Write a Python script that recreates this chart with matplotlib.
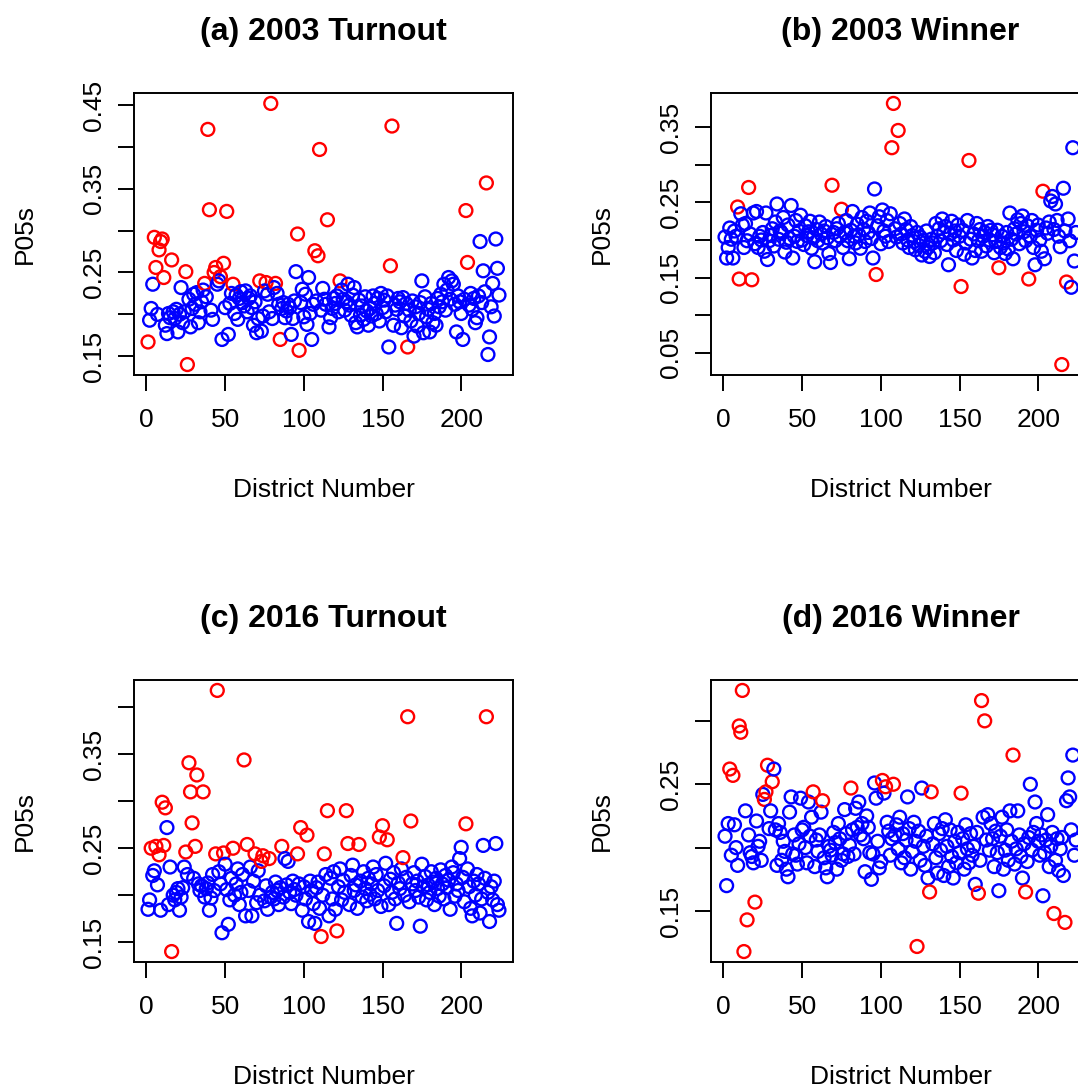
import numpy as np
import matplotlib
matplotlib.use('Agg')
import matplotlib.pyplot as plt

plt.rcParams['font.family'] = ['Liberation Sans', 'DejaVu Sans']

# district numbers 1..224
district = np.arange(1, 225)

# (a) 2003 turnout, P05s per district
turnout03 = [
    0.167, 0.193, 0.207, 0.236, 0.292, 0.256, 0.200, 0.277, 0.287, 0.290,
    0.244, 0.187, 0.177, 0.201, 0.196, 0.265, 0.203, 0.195, 0.206, 0.179,
    0.200, 0.232, 0.190, 0.203, 0.251, 0.140, 0.218, 0.185, 0.207, 0.224,
    0.212, 0.226, 0.190, 0.203, 0.215, 0.229, 0.237, 0.221, 0.421, 0.325,
    0.205, 0.194, 0.250, 0.256, 0.236, 0.240, 0.245, 0.170, 0.261, 0.208,
    0.323, 0.176, 0.213, 0.225, 0.236, 0.201, 0.223, 0.194, 0.219, 0.227,
    0.214, 0.210, 0.228, 0.203, 0.219, 0.222, 0.208, 0.187, 0.215, 0.178,
    0.195, 0.240, 0.180, 0.198, 0.228, 0.238, 0.224, 0.203, 0.452, 0.195,
    0.232, 0.237, 0.225, 0.212, 0.170, 0.207, 0.214, 0.196, 0.204, 0.212,
    0.208, 0.176, 0.195, 0.216, 0.251, 0.296, 0.157, 0.214, 0.230, 0.197,
    0.224, 0.188, 0.244, 0.201, 0.170, 0.212, 0.276, 0.216, 0.270, 0.397,
    0.205, 0.231, 0.218, 0.212, 0.313, 0.185, 0.196, 0.207, 0.219, 0.213,
    0.222, 0.203, 0.240, 0.229, 0.218, 0.205, 0.215, 0.236, 0.211, 0.199,
    0.223, 0.232, 0.190, 0.185, 0.217, 0.199, 0.210, 0.194, 0.221, 0.204,
    0.187, 0.207, 0.198, 0.222, 0.213, 0.201, 0.219, 0.192, 0.225, 0.208,
    0.217, 0.203, 0.222, 0.161, 0.258, 0.425, 0.187, 0.211, 0.206, 0.219,
    0.215, 0.184, 0.220, 0.198, 0.213, 0.161, 0.205, 0.192, 0.216, 0.174,
    0.209, 0.186, 0.201, 0.214, 0.240, 0.178, 0.221, 0.197, 0.206, 0.179,
    0.213, 0.190, 0.201, 0.187, 0.219, 0.209, 0.224, 0.215, 0.236, 0.205,
    0.229, 0.244, 0.218, 0.240, 0.236, 0.212, 0.179, 0.222, 0.215, 0.201,
    0.170, 0.218, 0.324, 0.262, 0.211, 0.225, 0.206, 0.219, 0.190, 0.196,
    0.222, 0.287, 0.214, 0.252, 0.227, 0.357, 0.152, 0.173, 0.209, 0.237,
    0.198, 0.290, 0.255, 0.223]
turnout03_red = [1, 5, 6, 8, 9, 10, 11, 16, 25, 26, 37, 39, 40, 43, 44, 47,
                 49, 51, 55, 72, 76, 79, 82, 85, 96, 97, 107, 109, 110, 115,
                 123, 155, 156, 166, 203, 204, 216]

# (b) 2003 winner
winner03 = [
    0.204, 0.176, 0.190, 0.216, 0.201, 0.176, 0.212, 0.205, 0.244, 0.148,
    0.235, 0.220, 0.190, 0.222, 0.199, 0.270, 0.208, 0.147, 0.236, 0.195,
    0.238, 0.190, 0.205, 0.200, 0.210, 0.185, 0.236, 0.174, 0.199, 0.206,
    0.215, 0.192, 0.224, 0.248, 0.201, 0.212, 0.209, 0.230, 0.184, 0.197,
    0.220, 0.202, 0.246, 0.176, 0.205, 0.226, 0.198, 0.212, 0.233, 0.200,
    0.194, 0.219, 0.206, 0.211, 0.225, 0.189, 0.203, 0.171, 0.214, 0.199,
    0.224, 0.208, 0.196, 0.212, 0.218, 0.203, 0.182, 0.170, 0.273, 0.210,
    0.199, 0.215, 0.222, 0.205, 0.241, 0.190, 0.210, 0.226, 0.199, 0.175,
    0.213, 0.238, 0.205, 0.196, 0.221, 0.207, 0.189, 0.230, 0.214, 0.198,
    0.225, 0.210, 0.236, 0.202, 0.176, 0.268, 0.154, 0.219, 0.231, 0.195,
    0.240, 0.212, 0.205, 0.226, 0.198, 0.235, 0.323, 0.382, 0.215, 0.204,
    0.346, 0.222, 0.208, 0.196, 0.228, 0.214, 0.200, 0.190, 0.218, 0.206,
    0.198, 0.187, 0.210, 0.193, 0.204, 0.180, 0.199, 0.185, 0.212, 0.190,
    0.178, 0.201, 0.196, 0.183, 0.222, 0.205, 0.215, 0.199, 0.228, 0.210,
    0.218, 0.194, 0.167, 0.208, 0.225, 0.200, 0.212, 0.186, 0.220, 0.205,
    0.138, 0.213, 0.181, 0.196, 0.226, 0.306, 0.201, 0.176, 0.208, 0.186,
    0.222, 0.199, 0.214, 0.185, 0.205, 0.210, 0.192, 0.218, 0.200, 0.213,
    0.207, 0.183, 0.198, 0.213, 0.163, 0.190, 0.205, 0.196, 0.182, 0.210,
    0.188, 0.236, 0.201, 0.175, 0.215, 0.208, 0.227, 0.195, 0.222, 0.232,
    0.211, 0.199, 0.219, 0.148, 0.205, 0.226, 0.190, 0.167, 0.213, 0.220,
    0.200, 0.185, 0.265, 0.175, 0.216, 0.209, 0.224, 0.252, 0.258, 0.214,
    0.248, 0.226, 0.205, 0.191, 0.034, 0.269, 0.212, 0.144, 0.228, 0.199,
    0.137, 0.323, 0.172, 0.210]
winner03_red = [9, 10, 16, 18, 69, 75, 97, 107, 108, 111, 151, 156, 175,
                194, 203, 215, 218]

# (c) 2016 turnout
turnout16 = [
    0.185, 0.195, 0.250, 0.221, 0.226, 0.252, 0.211, 0.243, 0.184, 0.299,
    0.253, 0.293, 0.272, 0.190, 0.230, 0.140, 0.200, 0.195, 0.203, 0.207,
    0.184, 0.198, 0.208, 0.230, 0.246, 0.222, 0.341, 0.310, 0.277, 0.218,
    0.252, 0.328, 0.212, 0.205, 0.210, 0.310, 0.198, 0.207, 0.213, 0.184,
    0.197, 0.222, 0.205, 0.244, 0.418, 0.225, 0.212, 0.160, 0.245, 0.233,
    0.206, 0.169, 0.195, 0.218, 0.250, 0.200, 0.212, 0.228, 0.190, 0.203,
    0.222, 0.344, 0.178, 0.254, 0.205, 0.230, 0.178, 0.215, 0.244, 0.192,
    0.226, 0.200, 0.236, 0.242, 0.194, 0.210, 0.185, 0.239, 0.198, 0.203,
    0.196, 0.214, 0.205, 0.190, 0.208, 0.252, 0.198, 0.239, 0.211, 0.236,
    0.203, 0.191, 0.215, 0.206, 0.200, 0.244, 0.212, 0.272, 0.184, 0.209,
    0.196, 0.264, 0.172, 0.215, 0.205, 0.191, 0.170, 0.208, 0.214, 0.186,
    0.156, 0.200, 0.244, 0.222, 0.290, 0.178, 0.218, 0.196, 0.225, 0.185,
    0.162, 0.209, 0.228, 0.195, 0.216, 0.203, 0.290, 0.255, 0.190, 0.221,
    0.232, 0.205, 0.211, 0.186, 0.254, 0.215, 0.198, 0.225, 0.207, 0.194,
    0.218, 0.201, 0.212, 0.230, 0.196, 0.222, 0.205, 0.262, 0.188, 0.274,
    0.210, 0.234, 0.259, 0.190, 0.217, 0.203, 0.224, 0.196, 0.170, 0.213,
    0.207, 0.228, 0.240, 0.200, 0.219, 0.390, 0.193, 0.279, 0.212, 0.224,
    0.205, 0.215, 0.198, 0.167, 0.233, 0.209, 0.220, 0.195, 0.211, 0.203,
    0.225, 0.214, 0.190, 0.218, 0.207, 0.199, 0.227, 0.212, 0.196, 0.221,
    0.208, 0.216, 0.185, 0.230, 0.224, 0.199, 0.212, 0.205, 0.239, 0.251,
    0.219, 0.193, 0.276, 0.228, 0.209, 0.186, 0.178, 0.215, 0.200, 0.222,
    0.212, 0.181, 0.196, 0.253, 0.218, 0.390, 0.203, 0.172, 0.209, 0.195,
    0.215, 0.255, 0.190, 0.184]
turnout16_red = [3, 6, 8, 10, 11, 12, 16, 25, 27, 28, 29, 31, 32, 36, 44,
                 45, 49, 55, 62, 64, 69, 73, 74, 78, 86, 96, 98, 102, 111,
                 113, 115, 121, 127, 128, 135, 148, 150, 153, 163, 166, 168,
                 203, 216]

# (d) 2016 winner
winner16 = [
    0.209, 0.170, 0.219, 0.262, 0.194, 0.257, 0.218, 0.200, 0.186, 0.296,
    0.291, 0.324, 0.118, 0.229, 0.143, 0.210, 0.196, 0.193, 0.188, 0.157,
    0.221, 0.201, 0.205, 0.190, 0.242, 0.238, 0.244, 0.265, 0.215, 0.229,
    0.252, 0.262, 0.214, 0.186, 0.219, 0.212, 0.190, 0.205, 0.197, 0.183,
    0.177, 0.228, 0.240, 0.195, 0.210, 0.194, 0.187, 0.203, 0.239, 0.214,
    0.216, 0.200, 0.188, 0.236, 0.209, 0.224, 0.244, 0.185, 0.206, 0.197,
    0.210, 0.228, 0.237, 0.192, 0.184, 0.177, 0.201, 0.198, 0.194, 0.212,
    0.204, 0.183, 0.219, 0.207, 0.190, 0.195, 0.230, 0.211, 0.193, 0.202,
    0.247, 0.214, 0.195, 0.231, 0.216, 0.236, 0.210, 0.219, 0.207, 0.181,
    0.225, 0.216, 0.196, 0.175, 0.195, 0.251, 0.239, 0.205, 0.184, 0.189,
    0.253, 0.243, 0.248, 0.220, 0.213, 0.194, 0.207, 0.250, 0.210, 0.218,
    0.199, 0.224, 0.188, 0.211, 0.192, 0.206, 0.240, 0.215, 0.183, 0.197,
    0.220, 0.205, 0.122, 0.213, 0.190, 0.247, 0.201, 0.186, 0.209, 0.176,
    0.165, 0.244, 0.203, 0.219, 0.192, 0.180, 0.211, 0.198, 0.215, 0.178,
    0.222, 0.201, 0.185, 0.214, 0.193, 0.176, 0.205, 0.188, 0.212, 0.196,
    0.243, 0.207, 0.183, 0.218, 0.199, 0.188, 0.211, 0.194, 0.201, 0.171,
    0.212, 0.164, 0.190, 0.316, 0.224, 0.300, 0.206, 0.226, 0.198, 0.219,
    0.207, 0.185, 0.213, 0.196, 0.166, 0.209, 0.224, 0.183, 0.198, 0.214,
    0.190, 0.229, 0.205, 0.273, 0.187, 0.199, 0.229, 0.210, 0.193, 0.176,
    0.203, 0.165, 0.189, 0.208, 0.250, 0.198, 0.212, 0.236, 0.219, 0.205,
    0.194, 0.210, 0.162, 0.196, 0.206, 0.226, 0.185, 0.201, 0.212, 0.148,
    0.190, 0.207, 0.182, 0.199, 0.208, 0.178, 0.141, 0.237, 0.255, 0.240,
    0.214, 0.273, 0.194, 0.206]
winner16_red = [4, 6, 10, 11, 12, 13, 15, 20, 26, 27, 28, 31, 57, 63, 81,
                101, 103, 108, 123, 131, 132, 151, 162, 164, 166, 184, 192,
                210, 217]

titles = ['(a) 2003 Turnout', '(b) 2003 Winner', '(c) 2016 Turnout', '(d) 2016 Winner']

W, H = 1078, 1088
fig = plt.figure(figsize=(W / 100, H / 100), dpi=100)


def px_rect(left, top, width, height):
    return [left / W, 1 - (top + height) / H, width / W, height / H]


def panel(left, top, y, red, title, yticks, ylabels):
    # plot box in pixels, R-like layout
    ax = fig.add_axes(px_rect(left, top, 379, 282))
    y = np.array(y)
    col = np.where(np.isin(district, red), '#FF0000', '#0000FF')
    ax.scatter(district, y, s=86, facecolors='none', edgecolors=col, linewidths=1.7)
    # 4% padding like R's default axes
    xr = district.max() - district.min()
    ax.set_xlim(district.min() - 0.04 * xr, district.max() + 0.04 * xr)
    yr = y.max() - y.min()
    ax.set_ylim(y.min() - 0.04 * yr, y.max() + 0.04 * yr)

    ax.set_xticks([0, 50, 100, 150, 200])
    ax.set_yticks(yticks)
    ax.set_yticklabels([('%.2f' % t) if t in ylabels else '' for t in yticks])
    ax.tick_params(length=11.5, width=1.4, labelsize=19, direction='out')
    ax.tick_params(axis='x', pad=12)
    ax.tick_params(axis='y', pad=9, labelrotation=90)
    for lab in ax.get_yticklabels():
        lab.set_va('center')
    for s in ax.spines.values():
        s.set_linewidth(1.4)

    cx = left + 189.5
    fig.text(cx / W, 1 - 40 / H - (top - 93) / H, title, ha='center', va='baseline',
             fontsize=23, fontweight='bold')
    fig.text(cx / W, 1 - 497 / H - (top - 93) / H, 'District Number', ha='center',
             va='baseline', fontsize=19)
    fig.text((left - 109) / W, 1 - (top + 141) / H, 'P05s', ha='center', va='center',
             rotation=90, fontsize=19)
    return ax


panel(134, 93, turnout03, turnout03_red, titles[0],
      [0.15, 0.20, 0.25, 0.30, 0.35, 0.40, 0.45], [0.15, 0.25, 0.35, 0.45])
panel(711, 93, winner03, winner03_red, titles[1],
      [0.05, 0.10, 0.15, 0.20, 0.25, 0.30, 0.35], [0.05, 0.15, 0.25, 0.35])
panel(134, 680, turnout16, turnout16_red, titles[2],
      [0.15, 0.20, 0.25, 0.30, 0.35, 0.40], [0.15, 0.25, 0.35])
panel(711, 680, winner16, winner16_red, titles[3],
      [0.15, 0.20, 0.25, 0.30], [0.15, 0.25])

fig.savefig('out.png', dpi=100)
